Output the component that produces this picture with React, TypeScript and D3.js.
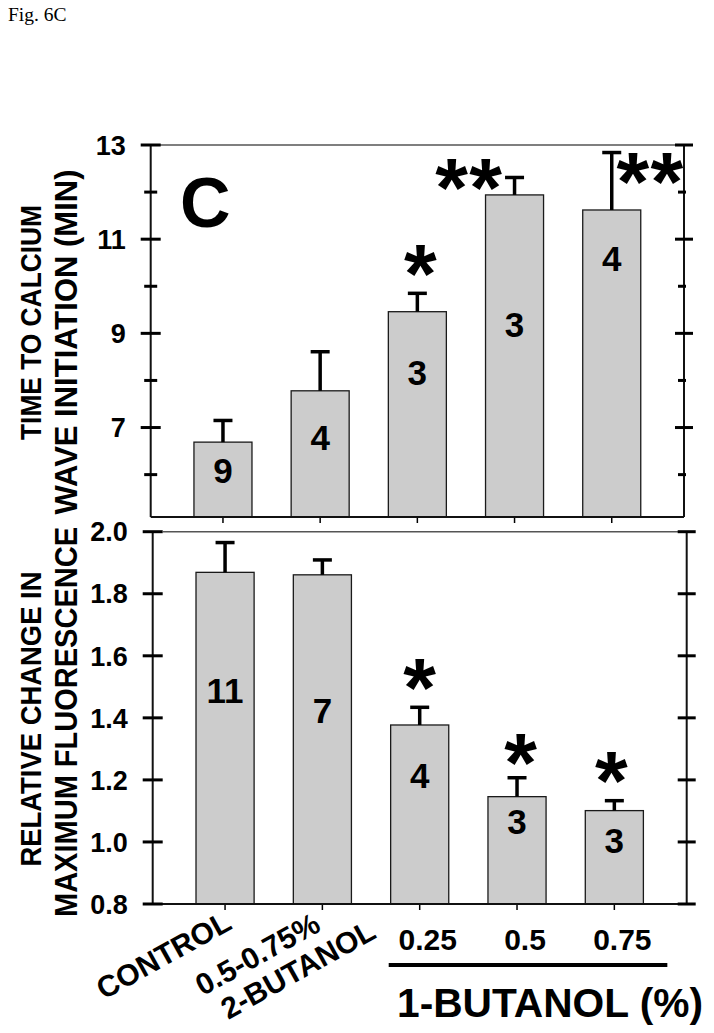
import React from "react";
import * as d3 from "d3";

// ---------- data ----------
const categories = ["CONTROL", "0.5-0.75% 2-BUTANOL", "0.25", "0.5", "0.75"];
const categoryLabelLines = [["CONTROL"], ["0.5-0.75%", "2-BUTANOL"], ["0.25"], ["0.5"], ["0.75"]];
const groupLabel = "1-BUTANOL (%)";

// Panel 1: time to calcium wave initiation (min)
const timeMeans = [6.69, 7.78, 9.46, 11.94, 11.62];
const timeErrors = [0.46, 0.83, 0.39, 0.37, 1.22];
const timeN = ["9", "4", "3", "3", "4"];
const timeNAt = [6.09, 6.8, 8.18, 9.2, 10.59];
const timeSig = ["", "", "*", "**", "**"];
const timeMajorTicks = [7, 9, 11, 13];
const timeMinorTicks = [6, 8, 10, 12];
const timeTitle = ["TIME TO CALCIUM", "WAVE INITIATION (MIN)"];

// Panel 2: relative change in maximum fluorescence
const fluorMeans = [1.869, 1.861, 1.377, 1.146, 1.101];
const fluorErrors = [0.096, 0.048, 0.057, 0.061, 0.032];
const fluorN = ["11", "7", "4", "3", "3"];
const fluorNAt = [1.49, 1.425, 1.216, 1.065, 1.006];
const fluorSig = ["", "", "*", "*", "*"];
const fluorMajorTicks = [0.8, 1.0, 1.2, 1.4, 1.6, 1.8, 2.0];
const fluorTitle = ["RELATIVE CHANGE IN", "MAXIMUM FLUORESCENCE"];

// ---------- layout ----------
const FONT = "'Liberation Sans', Arial, Helvetica, sans-serif";
const topSigOffset = [[0, 0], [0, 0], [3, -32], [-46, -2], [38, 16]];
const botSigOffset = [[0, 0], [0, 0], [0, -32], [3.5, -28], [-3, -33]];

type PanelProps = {
  left: number;
  right: number;
  top: number;
  bottom: number;
  domain: [number, number];
  means: number[];
  errors: number[];
  ns: string[];
  nAt: number[];
  sig: string[];
  sigOffset: number[][];
  major: number[];
  minor: number[];
  fmt: (v: number) => string;
  title: string[];
  titleCenters: number[];
  titleLengths: number[];
  titleSizes: number[];
  topLineStart: number;
};

function Panel(p: PanelProps) {
  const x = d3
    .scaleBand<string>()
    .domain(categories)
    .range([p.left, p.right])
    .paddingInner(0.403)
    .paddingOuter(0.445);
  const y = d3.scaleLinear().domain(p.domain).range([p.bottom, p.top]);
  const bw = x.bandwidth();
  const starFs = 84;
  return (
    <g>
      {/* top frame line */}
      <line x1={p.topLineStart} x2={p.right} y1={p.top} y2={p.top} stroke="#555" strokeWidth={1.6} />
      {/* bars */}
      {categories.map((c, i) => {
        const x0 = x(c)!;
        const cx = x0 + bw / 2;
        const yTopBar = y(p.means[i]);
        const yErr = y(p.means[i] + p.errors[i]);
        return (
          <g key={c}>
            <rect x={x0} y={yTopBar} width={bw} height={p.bottom - yTopBar} fill="#cccccc" stroke="#1a1a1a" strokeWidth={1.3} />
            <line x1={cx} x2={cx} y1={yTopBar} y2={yErr} stroke="#000" strokeWidth={3.5} />
            <line x1={cx - 9.5} x2={cx + 9.5} y1={yErr} y2={yErr} stroke="#000" strokeWidth={3.5} />
            <text x={cx} y={y(p.nAt[i])} dy="0.36em" textAnchor="middle" fontFamily={FONT} fontWeight="bold" fontSize={35} fill="#000">
              {p.ns[i]}
            </text>
            {p.sig[i].split("").map((s, j, arr) => {
              const sx = cx + p.sigOffset[i][0] + (j - (arr.length - 1) / 2) * 34;
              const sy = yErr + p.sigOffset[i][1];
              return (
                <text key={j} x={sx} y={sy + starFs * 0.5} textAnchor="middle" fontFamily={FONT} fontWeight="bold" fontSize={starFs} fill="#000">
                  {s}
                </text>
              );
            })}
            {/* x tick */}
            <line x1={cx} x2={cx} y1={p.bottom} y2={p.bottom + 6} stroke="#000" strokeWidth={1.5} />
          </g>
        );
      })}
      {/* axes */}
      <line x1={p.left} x2={p.left} y1={p.top} y2={p.bottom} stroke="#111" strokeWidth={2} />
      <line x1={p.right} x2={p.right} y1={p.top} y2={p.bottom} stroke="#111" strokeWidth={2} />
      <line x1={p.left} x2={p.right} y1={p.bottom} y2={p.bottom} stroke="#111" strokeWidth={2} />
      {p.major.map((t) => (
        <g key={"M" + t}>
          <line x1={p.left - 10} x2={p.left + 10} y1={y(t)} y2={y(t)} stroke="#000" strokeWidth={3} />
          <line x1={p.right - 9} x2={p.right + 9} y1={y(t)} y2={y(t)} stroke="#000" strokeWidth={3} />
          <text x={p.left - 25} y={y(t)} dy="0.36em" textAnchor="end" fontFamily={FONT} fontWeight="bold" fontSize={27} fill="#000">
            {p.fmt(t)}
          </text>
        </g>
      ))}
      {p.minor.map((t) => (
        <g key={"m" + t}>
          <line x1={p.left - 6.5} x2={p.left + 6.5} y1={y(t)} y2={y(t)} stroke="#000" strokeWidth={3} />
          <line x1={p.right - 6} x2={p.right + 2} y1={y(t)} y2={y(t)} stroke="#000" strokeWidth={3} />
        </g>
      ))}
      {/* y title */}
      {p.title.map((line, k) => (
        <text
          key={line}
          transform={`translate(${k === 0 ? 41 : 77},${p.titleCenters[k]}) rotate(-90)`}
          textAnchor="middle"
          fontFamily={FONT}
          fontWeight="bold"
          fontSize={p.titleSizes[k]}
          textLength={p.titleLengths[k]}
          lengthAdjust="spacingAndGlyphs"
          fill="#000"
        >
          {line}
        </text>
      ))}
    </g>
  );
}

export default function App() {
  const xBot = d3
    .scaleBand<string>()
    .domain(categories)
    .range([152.7, 686.7])
    .paddingInner(0.403)
    .paddingOuter(0.445);
  const bwB = xBot.bandwidth();
  const tickX = (i: number) => xBot(categories[i])! + bwB / 2;
  const groupStart = tickX(2) - 31;
  const groupEnd = tickX(4) + 53;
  return (
    <svg width={714} height={1033} style={{ position: "absolute", left: 0, top: 0, background: "#fff" }}>
      <rect x={0} y={0} width={714} height={1033} fill="#fff" />
      <text x={8} y={21} fontFamily="'Liberation Serif', 'Times New Roman', serif" fontSize={19.5} fill="#000">
        Fig. 6C
      </text>
      <Panel
        left={150.7}
        right={684}
        top={145}
        bottom={517}
        domain={[5.1, 13]}
        means={timeMeans}
        errors={timeErrors}
        ns={timeN}
        nAt={timeNAt}
        sig={timeSig}
        sigOffset={topSigOffset}
        major={timeMajorTicks}
        minor={timeMinorTicks}
        fmt={d3.format("d")}
        title={timeTitle}
        titleCenters={[322.5, 342]}
        titleLengths={[235, 345]}
        titleSizes={[30, 31]}
        topLineStart={150.7}
      />
      <text x={180} y={227} fontFamily={FONT} fontWeight="bold" fontSize={70} fill="#000">
        C
      </text>
      <Panel
        left={152.7}
        right={686.7}
        top={531.7}
        bottom={904}
        domain={[0.8, 2.0]}
        means={fluorMeans}
        errors={fluorErrors}
        ns={fluorN}
        nAt={fluorNAt}
        sig={fluorSig}
        sigOffset={botSigOffset}
        major={fluorMajorTicks}
        minor={[]}
        fmt={d3.format(".1f")}
        title={fluorTitle}
        titleCenters={[719, 722]}
        titleLengths={[295, 390]}
        titleSizes={[30, 31]}
        topLineStart={163}
      />
      {/* category labels */}
      <text transform={`translate(${tickX(0) + 8.5},928) rotate(-29)`} textAnchor="end" fontFamily={FONT} fontWeight="bold" fontSize={30} fill="#000">
        {categoryLabelLines[0][0]}
      </text>
      <text transform={`translate(${tickX(1)},930) rotate(-29)`} textAnchor="end" fontFamily={FONT} fontWeight="bold" fontSize={30} fill="#000">
        {categoryLabelLines[1][0]}
      </text>
      <text transform={`translate(${tickX(1) + 55.5},937) rotate(-29)`} textAnchor="end" fontFamily={FONT} fontWeight="bold" fontSize={30} fill="#000">
        {categoryLabelLines[1][1]}
      </text>
      {[2, 3, 4].map((i) => (
        <text key={i} x={tickX(i) + 8} y={950} textAnchor="middle" fontFamily={FONT} fontWeight="bold" fontSize={30} fill="#000">
          {categoryLabelLines[i][0]}
        </text>
      ))}
      <line x1={groupStart} x2={groupEnd} y1={965} y2={965} stroke="#000" strokeWidth={4} />
      <text x={397} y={1017} fontFamily={FONT} fontWeight="bold" fontSize={40} textLength={306} lengthAdjust="spacingAndGlyphs" fill="#000">
        {groupLabel}
      </text>
    </svg>
  );
}
